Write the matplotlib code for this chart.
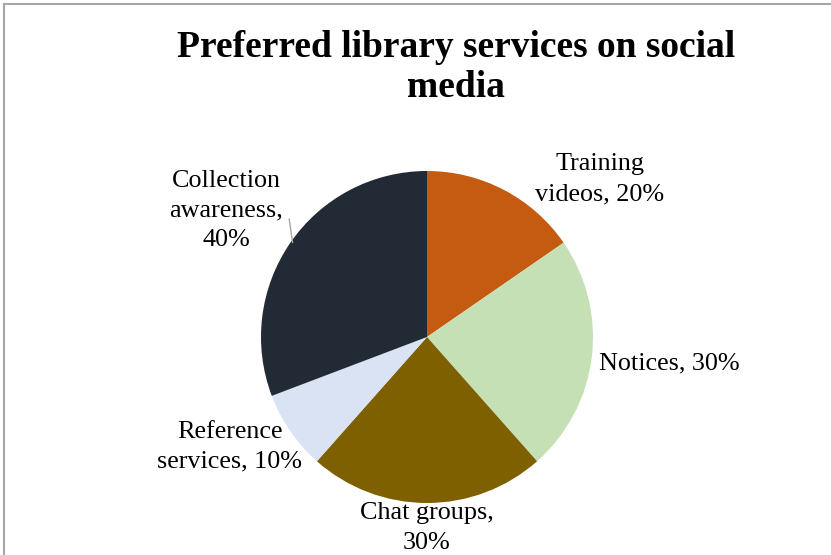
import matplotlib.pyplot as plt
from matplotlib.patches import Rectangle

names = ["Training videos", "Notices", "Chat groups", "Reference services", "Collection awareness"]
values = [20, 30, 30, 10, 40]
colors = ["#C55A11", "#C5E0B4", "#7F6000", "#DAE3F3", "#222A35"]

# label centres, in pie-radius units
label_pos = [(1.04, 0.95), (1.46, -0.16), (0.0, -1.15), (-1.19, -0.66), (-1.21, 0.76)]

plt.rcParams["font.family"] = ["Liberation Serif", "DejaVu Serif"]

fig = plt.figure(figsize=(8.31, 5.55), dpi=100)
ax = fig.add_axes([0, 0, 1, 1])

wedges, _ = ax.pie(values, colors=colors, startangle=90, counterclock=False,
                   radius=1, center=(0, 0), wedgeprops=dict(linewidth=0))

texts = {
    "Training videos": "Training\nvideos, %d%%",
    "Notices": "Notices, %d%%",
    "Chat groups": "Chat groups,\n%d%%",
    "Reference services": "Reference\nservices, %d%%",
    "Collection awareness": "Collection\nawareness,\n%d%%",
}
for name, v, (x, y) in zip(names, values, label_pos):
    ax.text(x, y, texts[name] % v, ha="center", va="center", fontsize=18.8,
            linespacing=1.45, color="black")

# leader line for Collection awareness
ax.plot([-0.83, -0.81], [0.71, 0.57], color="#A6A6A6", linewidth=1)

ax.set_xlim(-427 / 166, (831 - 427) / 166)
ax.set_ylim(-(555 - 337) / 166, 337 / 166)
ax.axis("off")

fig.text(0.549, 0.878, "Preferred library services on social\nmedia", ha="center", va="center",
         fontsize=27, fontweight="bold", linespacing=1.2)

fig.patches.append(Rectangle((4 / 831, -0.1), 1.2, 1.1 - 4 / 555, transform=fig.transFigure,
                             fill=False, edgecolor="#A6A6A6", linewidth=1.5))

fig.savefig("out.png", dpi=100)
